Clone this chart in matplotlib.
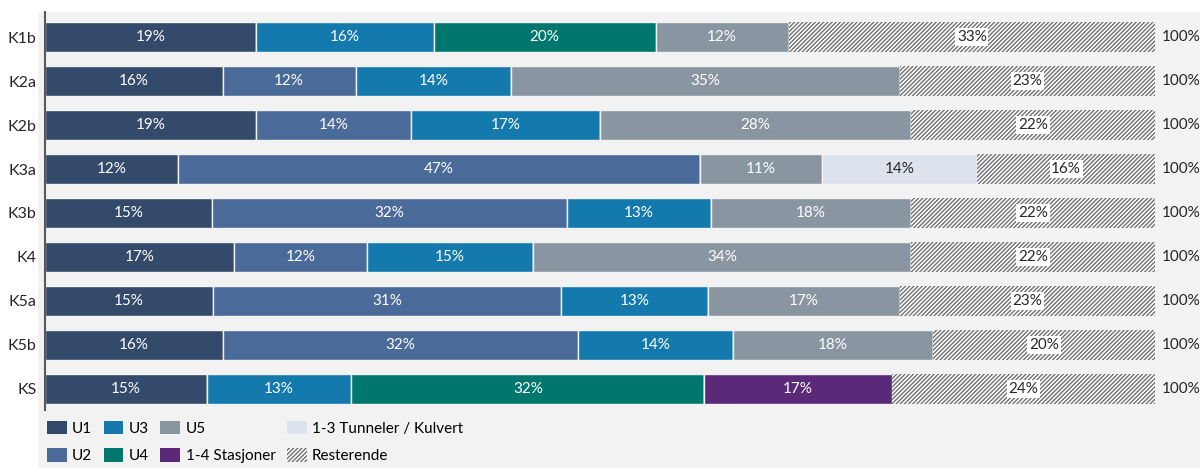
import matplotlib as mpl
import matplotlib.pyplot as plt
from matplotlib.patches import Patch, Rectangle

mpl.rcParams['font.family'] = ['Lato', 'DejaVu Sans']
mpl.rcParams['font.size'] = 11
mpl.rcParams['hatch.linewidth'] = 1.0

rows = ['K1b', 'K2a', 'K2b', 'K3a', 'K3b', 'K4', 'K5a', 'K5b', 'KS']

u1 = [19, 16, 19, 12, 15, 17, 15.1, 16, 14.6]
u2 = [0, 12, 14, 47, 32, 12, 31.4, 32, 0]
u3 = [16, 14, 17, 0, 13, 15, 13.2, 14, 13.0]
u4 = [20, 0, 0, 0, 0, 0, 0, 0, 31.8]
u5 = [12, 35, 28, 11, 18, 34, 17.3, 18, 0]
tunnel = [0, 0, 0, 14, 0, 0, 0, 0, 0]
stasjoner = [0, 0, 0, 0, 0, 0, 0, 0, 16.9]
rest = [33, 23, 22, 16, 22, 22, 23.0, 20, 23.7]

series = [
    ('U1', u1, '#344a6b', 'white'),
    ('U2', u2, '#4a6a9a', 'white'),
    ('U3', u3, '#1479ad', 'white'),
    ('U4', u4, '#00776e', 'white'),
    ('U5', u5, '#8996a2', 'white'),
    ('1-3 Tunneler / Kulvert', tunnel, '#dde3ed', '#262626'),
    ('1-4 Stasjoner', stasjoner, '#5a2a78', 'white'),
]

panel = '#f2f2f2'
hatch_col = '#707070'

fig = plt.figure(figsize=(12, 4.68), dpi=100)
bg = Rectangle((38 / 1200, 0), 1, 1 - 12 / 468, transform=fig.transFigure,
               facecolor=panel, edgecolor='none', zorder=-10)
fig.patches.append(bg)
ax = fig.add_axes([45 / 1200, 58 / 468, 1110 / 1200, 398 / 468])
ax.set_facecolor('none')
ax.set_zorder(5)

ypos = list(range(len(rows)))
left = [0] * len(rows)
for name, vals, col, tcol in series:
    ax.barh(ypos, vals, left=left, height=0.68, color=col,
            edgecolor=panel, linewidth=1)
    for i, v in enumerate(vals):
        if v > 0:
            ax.text(left[i] + v / 2, i, f'{round(v)}%', ha='center', va='center',
                    color=tcol, fontsize=11)
    left = [a + b for a, b in zip(left, vals)]

ax.barh(ypos, rest, left=left, height=0.68, color='white',
        edgecolor=hatch_col, linewidth=0, hatch='////////')
for i, v in enumerate(rest):
    ax.text(left[i] + v / 2, i, f'{round(v)}%', ha='center', va='center',
            color='#262626', fontsize=11,
            bbox=dict(facecolor='white', edgecolor='none', pad=1.2))

totals = [a + b for a, b in zip(left, rest)]
for i, t in enumerate(totals):
    ax.text(100.6, i, f'{round(t)}%', ha='left', va='center', color='#262626',
            fontsize=11)

ax.set_xlim(0, 100)
ax.set_ylim(8.48, -0.57)
ax.set_yticks(ypos)
ax.set_yticklabels(rows, color='#262626', fontsize=11.5)
ax.tick_params(axis='y', length=0, pad=6)
ax.set_xticks([])
for s in ['top', 'right', 'bottom']:
    ax.spines[s].set_visible(False)
ax.spines['left'].set_color('#595959')
ax.spines['left'].set_linewidth(1.5)

handles = [Patch(facecolor=col, edgecolor='none', label=name) for name, _, col, _ in series]
handles = [handles[0], handles[1], handles[2], handles[3], handles[4], handles[6], handles[5],
           Patch(facecolor='white', edgecolor=hatch_col, linewidth=0, hatch='////////',
                 label='Resterende')]
fig.legend(handles=handles, loc='upper left', bbox_to_anchor=(33 / 1200, 1 - 407 / 468),
           ncol=4, frameon=False, handlelength=1.3, handleheight=1.0,
           columnspacing=0.75, handletextpad=0.35, labelspacing=0.8, fontsize=11)

fig.savefig('out.png', dpi=100)
